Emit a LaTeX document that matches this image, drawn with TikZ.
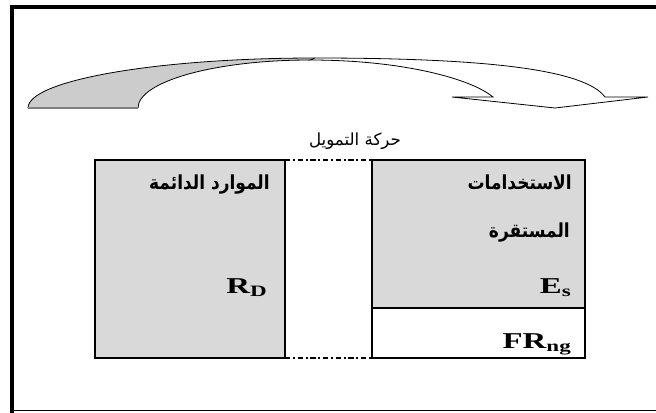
\documentclass[tikz,border=0pt]{standalone}
\usepackage{fontspec}
\setmainfont{Liberation Serif}
\newfontfamily\arabicfont[Script=Arabic]{DejaVu Sans}
\TeXXeTstate=1
\usepackage{xcolor}
\usetikzlibrary{positioning}
\definecolor{boxgray}{RGB}{217,217,217}
\definecolor{arrowgray}{RGB}{204,204,204}
\newcommand{\wide}[1]{\scalebox{1.45}[1]{#1}}
\newcommand{\narrow}[1]{\scalebox{0.88}[1]{#1}}

\begin{document}
\begin{tikzpicture}[x=0.75pt, y=-0.75pt]
  \tikzstyle{box}=[rectangle, draw=black, line width=1.5pt, fill=boxgray, outer sep=0pt, inner sep=0pt]
  \tikzstyle{lbl}=[anchor=base east, inner sep=0pt, font=\bfseries\fontsize{17}{20}\selectfont]
  \tikzstyle{artxt}=[anchor=base east, inner sep=0pt, font=\arabicfont\bfseries\fontsize{14.5}{17}\selectfont]
  \useasboundingbox (0,0) rectangle (656,412);

  % cadre
  \draw[line width=3pt] (12,414) -- (12,7) -- (660,7);
  \draw[line width=0.8pt] (12,410.5) -- (660,410.5);

  % fleche courbe
  \fill[arrowgray] (28,108) .. controls (28,80.4) and (156.5,58) .. (315,58) -- (310,60) .. controls (215,60) and (138,81.5) .. (138,108) -- cycle;
  \draw[line width=0.6pt] (138,108) .. controls (138,81.5) and (215,60) .. (310,60);
  \draw[line width=0.6pt] (28,108) .. controls (28,80.4) and (156.5,58) .. (315,58);
  \draw[line width=0.8pt, gray] (28,108) -- (138,108);
  \filldraw[fill=white, line width=0.6pt] (315,58) .. controls (490,58) and (585,70) .. (605,97) -- (648,97) -- (555,108) -- (452,97) -- (493,97) .. controls (470,78) and (400,60) .. (310,60) -- cycle;

  \node[anchor=base, inner sep=0pt, font=\arabicfont\fontsize{12.5}{15}\selectfont] (mvt) at (355,145) {\beginR حركة التمويل\endR};

  % blocs
  \node[box, minimum width=142.5pt, minimum height=148.5pt] (rd) at (190,259) {};
  \node[box, minimum width=159.75pt, minimum height=111pt] (es) at (478.5,234) {};
  \node[box, fill=white, minimum width=159.75pt, minimum height=37.5pt, below=0pt of es] (fr) {};

  \draw[line width=1.5pt, dash pattern=on 4pt off 2pt on 1.5pt off 2pt] (rd.north east) -- (es.north west);
  \draw[line width=1.5pt, dash pattern=on 4pt off 2pt on 1.5pt off 2pt] (rd.south east) -- (fr.south west);

  \node[artxt] (trd) at (270,189) {\narrow{\beginR الموارد الدائمة\endR}};
  \node[artxt] (tes1) at (572,189) {\narrow{\beginR الاستخدامات\endR}};
  \node[artxt] (tes2) at (570,237) {\narrow{\beginR المستقرة\endR}};
  \node[lbl] (xrd) at (268,293) {\wide{R\textsubscript{D}}};
  \node[lbl] (xes) at (572,293) {\wide{E\textsubscript{s}}};
  \node[lbl] (xfr) at (572,348) {\wide{FR\textsubscript{ng}}};
\end{tikzpicture}
\end{document}
